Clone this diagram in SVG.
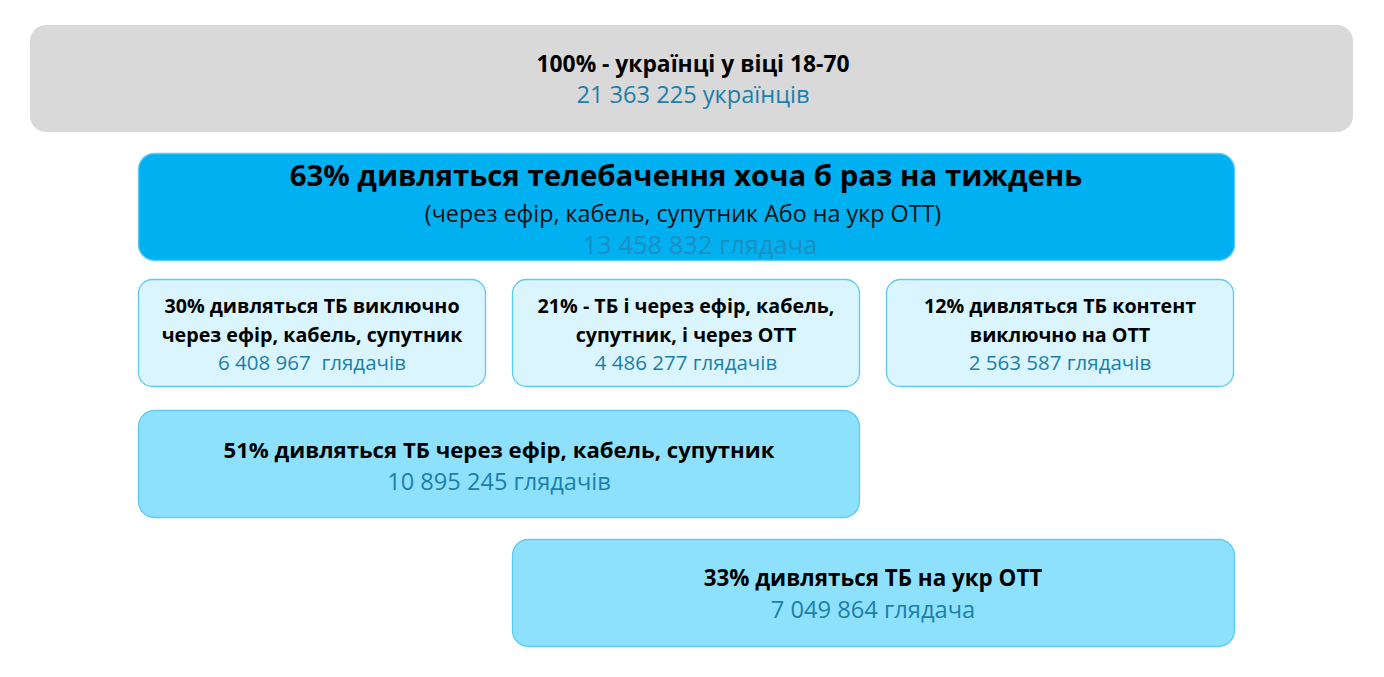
<svg xmlns="http://www.w3.org/2000/svg" width="1384" height="677" viewBox="0 0 1384 677">
<style>
text{font-family:"Open Sans","Noto Sans","Liberation Sans",sans-serif;text-anchor:middle;white-space:pre}
.b{font-weight:bold;fill:#000}
.n{fill:#1A7FAB}
.box{stroke:#5CCBF4;stroke-width:1.3}
.s{font-size:19.7px}
.sn{font-size:20.5px}
</style>
<rect width="1384" height="677" fill="#fff"/>
<g id="total">
<rect x="30" y="25" width="1323" height="107" rx="16" fill="#D9D9D9"/>
<text x="693" y="72" class="b" font-size="22.8">100% - українці у віці 18-70</text>
<text x="693" y="103" class="n" font-size="23.6">21 363 225 українців</text>
</g>
<g id="tv63">
<rect x="138.5" y="153.5" width="1096" height="107" rx="16" fill="#00B0F0" class="box"/>
<text x="686" y="186" class="b" font-size="29.4">63% дивляться телебачення хоча б раз на тиждень</text>
<text x="683" y="222" fill="#111" font-size="23.3">(через ефір, кабель, супутник Або на укр ОТТ)</text>
<text x="700" y="254" fill="#1C8FC0" font-size="25.5">13 458 832 глядача</text>
</g>
<g id="tv30">
<rect x="138.5" y="279.5" width="347" height="107" rx="14" fill="#DAF5FE" class="box"/>
<text x="312" y="313" class="b s">30% дивляться ТБ виключно</text>
<text x="312" y="342" class="b s">через ефір, кабель, супутник</text>
<text x="312" y="370" class="n sn" xml:space="preserve">6 408 967  глядачів</text>
</g>
<g id="tv21">
<rect x="512.5" y="279.5" width="347" height="107" rx="14" fill="#DAF5FE" class="box"/>
<text x="686" y="313" class="b s">21% - ТБ і через ефір, кабель,</text>
<text x="686" y="342" class="b s">супутник, і через ОТТ</text>
<text x="686" y="370" class="n sn">4 486 277 глядачів</text>
</g>
<g id="tv12">
<rect x="886.5" y="279.5" width="347" height="107" rx="14" fill="#DAF5FE" class="box"/>
<text x="1060" y="313" class="b s">12% дивляться ТБ контент</text>
<text x="1060" y="342" class="b s">виключно на ОТТ</text>
<text x="1060" y="370" class="n sn">2 563 587 глядачів</text>
</g>
<g id="tv51">
<rect x="138.5" y="410.5" width="721" height="107" rx="16" fill="#8EE1FC" class="box"/>
<text x="499" y="458" class="b" font-size="22.2">51% дивляться ТБ через ефір, кабель, супутник</text>
<text x="499" y="490" class="n" font-size="23.6">10 895 245 глядачів</text>
</g>
<g id="tv33">
<rect x="512.5" y="539.5" width="722" height="107" rx="16" fill="#8EE1FC" class="box"/>
<text x="873" y="586" class="b" font-size="22.4">33% дивляться ТБ на укр ОТТ</text>
<text x="873" y="618" class="n" font-size="23.7">7 049 864 глядача</text>
</g>
<g id="connectors"></g>
</svg>
